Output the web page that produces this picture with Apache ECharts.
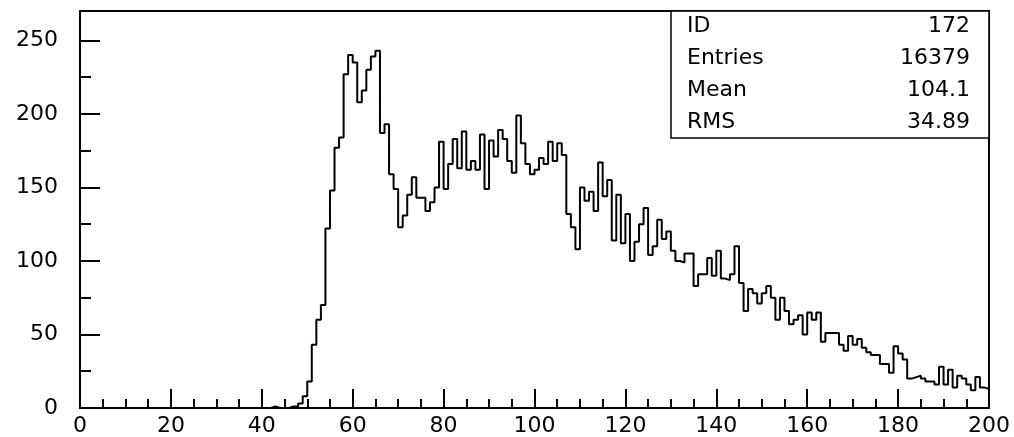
<!DOCTYPE html>
<html>
<head>
<meta charset="utf-8">
<title>ID 172</title>
<script src="https://cdn.jsdelivr.net/npm/echarts@6/dist/echarts.min.js"></script>
<style>
  html, body { margin: 0; padding: 0; background: #fff; }
  #chart { width: 1014px; height: 437px; }
</style>
</head>
<body>
<div id="chart"></div>
<script>
// histogram 172, 200 bins of width 1 from 0 to 200
const xMin = 0;
const xMax = 200;
const binWidth = 1;

const binCounts = [
  0, 0, 0, 0, 0, 0, 0, 0, 0, 0,
  0, 0, 0, 0, 0, 0, 0, 0, 0, 0,
  0, 0, 0, 0, 0, 0, 0, 0, 0, 0,
  0, 0, 0, 0, 0, 0, 0, 0, 0, 0,
  0, 0, 1, 0, 0, 0, 1, 1, 3, 8,
  18, 43, 60, 70, 122, 148, 177, 184, 227, 240,
  235, 208, 216, 230, 239, 243, 187, 193, 159, 149,
  123, 131, 145, 157, 143, 143, 134, 140, 150, 181,
  149, 166, 183, 163, 188, 162, 168, 162, 186, 149,
  182, 171, 189, 183, 168, 160, 199, 180, 166, 159,
  162, 170, 166, 181, 168, 180, 172, 132, 123, 108,
  150, 141, 147, 134, 167, 144, 155, 114, 145, 112,
  132, 100, 113, 125, 136, 104, 110, 128, 115, 120,
  107, 100, 99, 105, 105, 83, 91, 91, 102, 90,
  107, 88, 87, 91, 110, 85, 66, 81, 78, 71,
  78, 83, 75, 60, 75, 66, 57, 60, 63, 50,
  65, 60, 65, 45, 51, 51, 51, 43, 39, 49,
  43, 47, 41, 38, 36, 36, 30, 30, 24, 42,
  37, 33, 20, 21, 22, 20, 18, 18, 16, 28,
  16, 26, 14, 22, 20, 16, 12, 21, 14, 13
];

const yMax = 270;
const statNames = ['ID', 'Entries', 'Mean', 'RMS'];
const statValues = ['172', '16379', '104.1', '34.89'];

const font = 'DejaVu Sans';
const fontSize = 22;

// step points: left edge of every bin, plus the right edge of the last one
const stepData = binCounts.map((v, i) => [xMin + i * binWidth, v]);
stepData.push([xMax, binCounts[binCounts.length - 1]]);

const chart = echarts.init(document.getElementById('chart'), null, { renderer: 'canvas' });

// stats box in the top right corner
const boxLeft = 671, boxTop = 11, boxRight = 989, boxBottom = 138;
const rowY = [26, 58, 90, 122];
const statGraphics = [{
  type: 'rect',
  shape: { x: boxLeft, y: boxTop, width: boxRight - boxLeft, height: boxBottom - boxTop },
  style: { fill: '#fff', stroke: '#000', lineWidth: 1.5 },
  z: 10
}];
statNames.forEach((name, i) => {
  statGraphics.push({
    type: 'text', x: boxLeft + 16, y: rowY[i], z: 11,
    style: { text: name, font: fontSize + 'px "' + font + '"', fill: '#000',
      align: 'left', verticalAlign: 'middle', textAlign: 'left', textVerticalAlign: 'middle' }
  });
  statGraphics.push({
    type: 'text', x: boxRight - 19, y: rowY[i], z: 11,
    style: { text: statValues[i], font: fontSize + 'px "' + font + '"', fill: '#000',
      align: 'right', verticalAlign: 'middle', textAlign: 'right', textVerticalAlign: 'middle' }
  });
});

const option = {
  animation: false,
  backgroundColor: '#fff',
  grid: {
    left: 80, right: 25, top: 11, bottom: 28,
    show: true, borderColor: '#000', borderWidth: 2, backgroundColor: 'transparent'
  },
  xAxis: {
    type: 'value',
    min: xMin, max: xMax, interval: 20,
    axisLine: { show: true, lineStyle: { color: '#000', width: 2 } },
    axisTick: { show: true, inside: true, length: 19, lineStyle: { color: '#000', width: 2 } },
    minorTick: { show: true, splitNumber: 4, length: 9, lineStyle: { color: '#000', width: 2 } },
    splitLine: { show: false },
    axisLabel: { color: '#000', fontFamily: font, fontSize: fontSize, margin: 7 }
  },
  yAxis: {
    type: 'value',
    min: 0, max: yMax, interval: 50,
    axisLine: { show: true, lineStyle: { color: '#000', width: 2 } },
    axisTick: { show: true, inside: true, length: 20, lineStyle: { color: '#000', width: 2 } },
    minorTick: { show: true, splitNumber: 2, length: 11, lineStyle: { color: '#000', width: 2 } },
    splitLine: { show: false },
    axisLabel: { color: '#000', fontFamily: font, fontSize: fontSize, margin: 22, showMaxLabel: false }
  },
  series: [{
    name: 'ID 172',
    type: 'line',
    step: 'end',
    data: stepData,
    symbol: 'none',
    lineStyle: { color: '#000', width: 2 },
    z: 5
  }],
  graphic: statGraphics
};
chart.setOption(option);
</script>
</body>
</html>
